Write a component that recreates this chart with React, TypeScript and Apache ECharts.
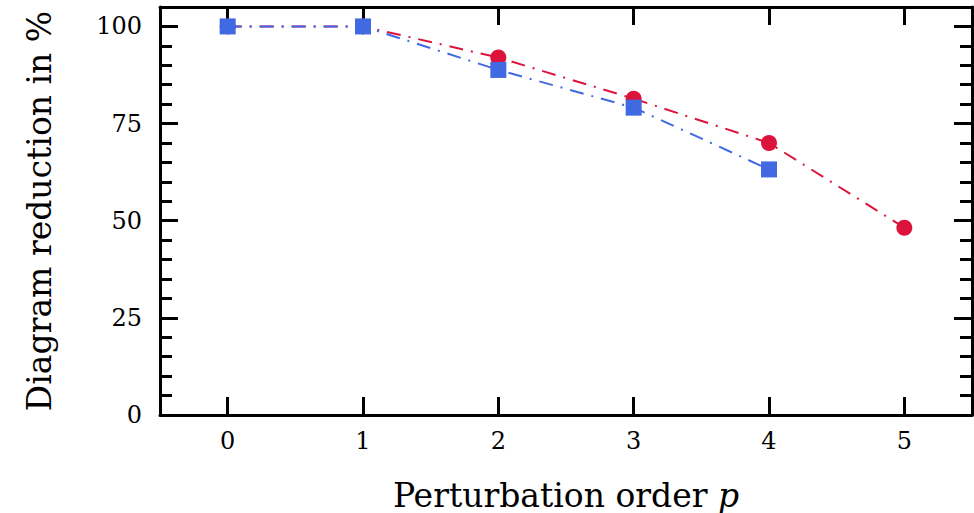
import React, { useEffect, useRef } from "react";
import * as echarts from "echarts";

const categories = ["0", "1", "2", "3", "4", "5"];
const redValues = [100, 100, 92.0, 81.4, 70.0, 48.2];
const blueValues = [100, 100, 88.8, 79.1, 63.2];
const yMajorTicks = [0, 25, 50, 75, 100];
const xTitle = "Perturbation order ";
const yTitle = "Diagram reduction in %";

const FONT = "DejaVu Serif";
const RED = "#DC143C";
const BLUE = "#4169E1";

export default function App() {
  const ref = useRef<HTMLDivElement>(null);
  useEffect(() => {
    if (!ref.current) return;
    const chart = echarts.init(ref.current, null, { renderer: "svg" });
    const axisLine = { show: true, onZero: false, lineStyle: { color: "#000", width: 3 } };
    const majorTick = { show: true, inside: true, length: 18, lineStyle: { color: "#000", width: 3 } };
    const minorTickAxis = (pos: "left" | "right") => ({
      type: "value",
      position: pos,
      min: 0,
      max: 105,
      interval: 5,
      axisLine: { show: false },
      axisTick: { show: true, inside: true, length: 12, lineStyle: { color: "#000", width: 3 } },
      axisLabel: { show: false },
      splitLine: { show: false },
    });
    chart.setOption({
      animation: false,
      grid: { left: 160, right: 2, top: 7, bottom: 98 },
      xAxis: [
        {
          type: "category",
          data: categories,
          position: "bottom",
          boundaryGap: true,
          axisLine,
          axisTick: { ...majorTick, alignWithLabel: true, interval: 0 },
          axisLabel: { color: "#000", fontFamily: FONT, fontSize: 24, margin: 14 },
          splitLine: { show: false },
        },
        {
          type: "category",
          data: categories,
          position: "top",
          boundaryGap: true,
          axisLine,
          axisTick: { ...majorTick, alignWithLabel: true, interval: 0 },
          axisLabel: { show: false },
          splitLine: { show: false },
        },
      ],
      yAxis: [
        {
          type: "value",
          position: "left",
          min: 0,
          max: 105,
          interval: 25,
          axisLine,
          axisTick: majorTick,
          axisLabel: {
            color: "#000",
            fontFamily: FONT,
            fontSize: 24,
            margin: 18,
            formatter: (v: number) => (yMajorTicks.includes(v) ? String(v) : ""),
          },
          splitLine: { show: false },
        },
        {
          type: "value",
          position: "right",
          min: 0,
          max: 105,
          interval: 25,
          axisLine,
          axisTick: majorTick,
          axisLabel: { show: false },
          splitLine: { show: false },
        },
        minorTickAxis("left"),
        minorTickAxis("right"),
      ],
      series: [
        {
          type: "line",
          data: redValues,
          xAxisIndex: 0,
          yAxisIndex: 0,
          symbol: "circle",
          symbolSize: 16,
          itemStyle: { color: RED },
          lineStyle: { color: RED, width: 2, type: [14, 8, 2, 8] },
          z: 3,
        },
        {
          type: "line",
          data: blueValues,
          xAxisIndex: 0,
          yAxisIndex: 0,
          symbol: "rect",
          symbolSize: 16,
          itemStyle: { color: BLUE },
          lineStyle: { color: BLUE, width: 2, type: [14, 8, 2, 8] },
          z: 4,
        },
      ],
      graphic: [
        {
          type: "text",
          x: 566,
          y: 495,
          style: {
            text: "{r|" + xTitle + "}{i|p}",
            rich: {
              r: { fontFamily: FONT, fontSize: 33, fill: "#000" },
              i: { fontFamily: FONT, fontSize: 33, fontStyle: "italic", fill: "#000" },
            },
            align: "center",
            verticalAlign: "middle",
          },
        },
        {
          type: "text",
          x: 39,
          y: 211,
          rotation: Math.PI / 2,
          style: {
            text: yTitle,
            fontFamily: FONT,
            fontSize: 33,
            fill: "#000",
            align: "center",
            verticalAlign: "middle",
          },
        },
      ],
    });
    return () => chart.dispose();
  }, []);
  return (
    <div
      ref={ref}
      style={{ position: "fixed", left: 0, top: 0, width: 974, height: 513, background: "#fff" }}
    />
  );
}
